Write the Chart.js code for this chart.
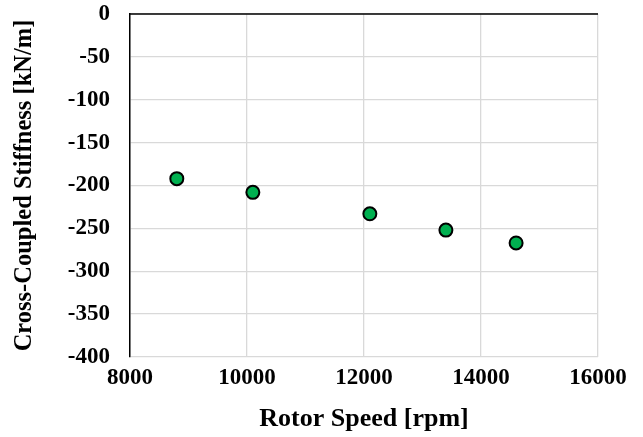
<!DOCTYPE html>
<html lang="en">
<head>
<meta charset="utf-8">
<script src="https://cdn.jsdelivr.net/npm/chart.js"></script>
<style>
  html, body { margin: 0; padding: 0; background: #fff; }
  #wrap { width: 643px; height: 437px; }
</style>
</head>
<body>
<div id="wrap"><canvas id="stiffChart"></canvas></div>
<script>
  // data
  const rotorSpeed = [8800, 10100, 12100, 13400, 14600];
  const crossStiffness = [-192, -208, -233, -252, -267];
  const xTicks = [8000, 10000, 12000, 14000, 16000];
  const yTicks = [0, -50, -100, -150, -200, -250, -300, -350, -400];

  const serif = 'Liberation Serif, Times New Roman, serif';

  // Excel draws the horizontal axis line where y = 0, i.e. along the top
  const topAxisLine = {
    id: 'topAxisLine',
    afterDatasetsDraw(chart) {
      const a = chart.chartArea, c = chart.ctx;
      c.save();
      c.strokeStyle = '#000';
      c.lineWidth = 1.5;
      c.beginPath();
      c.moveTo(a.left - 0.75, a.top);
      c.lineTo(a.right, a.top);
      c.stroke();
      c.restore();
    }
  };

  const ctx = document.getElementById('stiffChart').getContext('2d');
  new Chart(ctx, {
    type: 'scatter',
    data: {
      datasets: [{
        data: rotorSpeed.map((s, i) => ({ x: s, y: crossStiffness[i] })),
        backgroundColor: '#00b050',
        borderColor: '#000',
        borderWidth: 2,
        pointRadius: 6.5,
        pointHoverRadius: 6.5
      }]
    },
    options: {
      responsive: true,
      maintainAspectRatio: false,
      animation: false,
      layout: { padding: { top: 14, right: 45, left: 0, bottom: 0 } },
      plugins: { legend: { display: false }, tooltip: { enabled: false } },
      scales: {
        x: {
          type: 'linear',
          min: xTicks[0],
          max: xTicks[xTicks.length - 1],
          afterBuildTicks: axis => { axis.ticks = xTicks.map(v => ({ value: v })); },
          afterFit: axis => { axis.height = 80; },
          grid: { color: '#d9d9d9', lineWidth: 1.3, drawTicks: false },
          border: { display: false },
          ticks: {
            padding: 7,
            color: '#000',
            font: { family: serif, size: 23, weight: 'bold' },
            callback: v => String(v)
          },
          title: {
            display: true,
            text: 'Rotor Speed [rpm]',
            color: '#000',
            font: { family: serif, size: 26, weight: 'bold', lineHeight: 1 },
            padding: { top: 0, bottom: 5 }
          }
        },
        y: {
          type: 'linear',
          min: yTicks[yTicks.length - 1],
          max: yTicks[0],
          afterBuildTicks: axis => { axis.ticks = yTicks.slice().reverse().map(v => ({ value: v })); },
          afterFit: axis => {
            axis.width = 130;
            axis.paddingTop = 0;
            axis.paddingBottom = 0;
          },
          grid: { color: '#d9d9d9', lineWidth: 1.3, drawTicks: false },
          border: { display: true, color: '#000', width: 1.5 },
          ticks: {
            padding: 20,
            color: '#000',
            font: { family: serif, size: 23, weight: 'bold' },
            callback: v => String(v)
          },
          title: {
            display: true,
            text: 'Cross-Coupled Stiffness [kN/m]',
            color: '#000',
            font: { family: serif, size: 24.5, weight: 'bold', lineHeight: 1 },
            padding: { top: 12, bottom: 0 }
          }
        }
      }
    },
    plugins: [topAxisLine]
  });
</script>
</body>
</html>
